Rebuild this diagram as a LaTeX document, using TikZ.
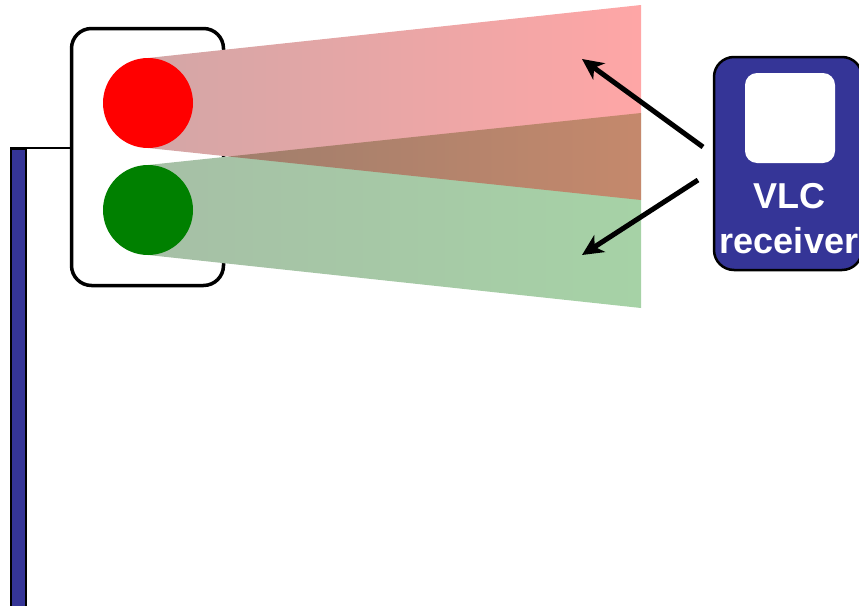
\documentclass[tikz,border=0pt]{standalone}
\usepackage{fontspec}
\setmainfont{Liberation Sans}
\usetikzlibrary{arrows.meta}
\definecolor{poleblue}{RGB}{53,53,151}
\definecolor{lred}{RGB}{255,0,0}
\definecolor{lredd}{RGB}{131,0,0}
\definecolor{lgreen}{RGB}{0,128,0}
\definecolor{lgreend}{RGB}{0,74,0}
\tikzset{
  lamp/.style={circle, inner sep=0pt, minimum size=90pt},
  beam/.style={fill opacity=0.35},
  sig/.style={line width=5pt, -{Stealth[length=21pt, width=20pt, inset=6pt]}},
  rxtext/.style={text=white, font=\bfseries\fontsize{36}{40}\selectfont, anchor=base, inner sep=0pt}
}
\begin{document}
\begin{tikzpicture}[x=1pt,y=-1pt]
\useasboundingbox (0,0) rectangle (859,605);
\clip (0,0) rectangle (859,605);
% pole
\node (pole) [draw, line width=2.2pt, fill=poleblue, inner sep=0pt, minimum width=14.5pt, minimum height=460pt] at (18.5,379) {};
% housing
\node (housing) [draw, line width=3.5pt, rounded corners=20pt, inner sep=0pt, minimum width=152pt, minimum height=257pt] at (147.5,157) {};
\draw[line width=2.5pt] (pole.north west) -- (housing.west |- pole.north west);
% beams (white underlay hides the housing border)
\fill[white] (148,165) -- (641,113) -- (641,308) -- (148,255) -- cycle;
\fill[white] (148,58) -- (641,5) -- (641,200) -- (148,148) -- cycle;
\shade[beam, left color=lgreend, right color=lgreen] (148,165) -- (641,113) -- (641,308) -- (148,255) -- cycle;
\shade[beam, left color=lredd, right color=lred] (148,58) -- (641,5) -- (641,200) -- (148,148) -- cycle;
% lamps
\node (redlamp) [lamp, fill=lred] at (148,103) {};
\node (greenlamp) [lamp, fill=lgreen] at (148,210) {};
% receiver
\node (rx) [draw, line width=2.5pt, fill=poleblue, rounded corners=20pt, inner sep=0pt, minimum width=148pt, minimum height=213pt] at (788,163.5) {};
\node (sensor) [fill=white, rounded corners=12pt, inner sep=0pt, minimum size=90pt] at (790,118) {};
\node (vlc) [rxtext] at (789,208) {VLC};
\node (rxlabel) [rxtext] at (789,253) {receiver};
% arrows
\coordinate (t1) at (582,59);
\coordinate (t2) at (582,255);
\coordinate (s1) at (703,147);
\coordinate (s2) at (698,180);
\draw[sig] (s1) -- (t1);
\draw[sig] (s2) -- (t2);
\end{tikzpicture}
\end{document}
